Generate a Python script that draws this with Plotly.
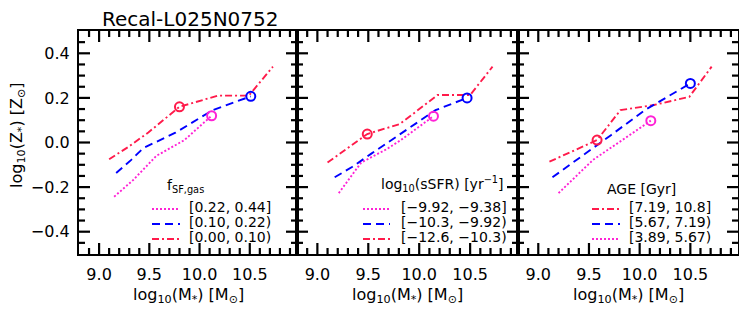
import numpy as np
import plotly.graph_objects as go

# ---------------- data ----------------
title_text = "Recal-L025N0752"
x_ticks = [9.0, 9.5, 10.0, 10.5]
y_ticks = [-0.4, -0.2, 0.0, 0.2, 0.4]

# panel 1 : f_SF,gas bins
p1_hi_x = [9.15, 9.34, 9.57, 9.85, 10.12]
p1_hi_y = [-0.243, -0.168, -0.06, 0.011, 0.12]
p1_mid_x = [9.17, 9.32, 9.44, 9.76, 10.13, 10.51]
p1_mid_y = [-0.137, -0.078, -0.025, 0.044, 0.145, 0.207]
p1_lo_x = [9.10, 9.29, 9.49, 9.80, 10.18, 10.49, 10.73]
p1_lo_y = [-0.075, -0.02, 0.045, 0.16, 0.21, 0.21, 0.34]
p1_circ_x = [10.12, 10.51, 9.80]
p1_circ_y = [0.12, 0.207, 0.16]
p1_labels = ["[0.22, 0.44]", "[0.10, 0.22)", "[0.00, 0.10)"]
p1_title = "f<sub>SF,gas</sub>"

# panel 2 : sSFR bins
p2_hi_x = [9.21, 9.43, 9.68, 9.82, 10.14]
p2_hi_y = [-0.227, -0.09, -0.03, 0.011, 0.118]
p2_mid_x = [9.17, 9.34, 9.53, 9.87, 10.16, 10.47]
p2_mid_y = [-0.156, -0.11, -0.05, 0.056, 0.145, 0.20]
p2_lo_x = [9.10, 9.49, 9.81, 10.18, 10.50, 10.72]
p2_lo_y = [-0.09, 0.038, 0.083, 0.213, 0.213, 0.34]
p2_circ_x = [10.14, 10.47, 9.49]
p2_circ_y = [0.118, 0.20, 0.038]
p2_labels = ["[\u22129.92, \u22129.38]", "[\u221210.3, \u22129.92)", "[\u221212.6, \u221210.3)"]
p2_title = "log<sub>10</sub>(sSFR) [yr<sup>\u22121</sup>]"

# panel 3 : AGE bins
p3_old_x = [9.11, 9.58, 9.81, 10.14, 10.49, 10.71]
p3_old_y = [-0.086, 0.011, 0.145, 0.168, 0.205, 0.34]
p3_mid_x = [9.14, 9.38, 9.72, 10.05, 10.22, 10.50]
p3_mid_y = [-0.156, -0.078, 0.034, 0.145, 0.19, 0.265]
p3_young_x = [9.20, 9.54, 10.11]
p3_young_y = [-0.227, -0.078, 0.098]
p3_circ_x = [9.58, 10.50, 10.11]
p3_circ_y = [0.011, 0.265, 0.098]
p3_labels = ["[7.19, 10.8]", "[5.67, 7.19)", "[3.89, 5.67)"]
p3_title = "AGE [Gyr]"

# ---------------- style ----------------
RED = "#ff1a4a"
BLUE = "#0000ff"
MAG = "#ff22d6"
DASH_RED = "7px,3px,2px,3px"
DASH_BLUE = "8px,5px"
DASH_MAG = "2px,2px"
FONT = "DejaVu Sans"
OFF = 8               # page body margin of the html page
W, H = 747 - OFF, 325 - OFF
XR = [8.8, 10.97]
YR = [-0.5, 0.5]
MAJ, MIN, TW = 11, 6, 2.2
LW = 1.9

def px(x):
    return (x - OFF) / W

def py(y):
    return 1 - (y - OFF) / H

x_edges = [(79, 297), (297, 518), (518, 738)]
y_top, y_bot = 31, 254

x_minor = [v for v in np.round(np.arange(8.9, XR[1], 0.1), 2) if v not in x_ticks]
y_minor = [v for v in np.round(np.arange(-0.45, 0.46, 0.05), 2)
           if min(abs(v - t) for t in y_ticks) > 1e-6]

fig = go.Figure()

panels = [
    [(p1_hi_x, p1_hi_y, MAG, DASH_MAG), (p1_mid_x, p1_mid_y, BLUE, DASH_BLUE), (p1_lo_x, p1_lo_y, RED, DASH_RED)],
    [(p2_hi_x, p2_hi_y, MAG, DASH_MAG), (p2_mid_x, p2_mid_y, BLUE, DASH_BLUE), (p2_lo_x, p2_lo_y, RED, DASH_RED)],
    [(p3_old_x, p3_old_y, RED, DASH_RED), (p3_mid_x, p3_mid_y, BLUE, DASH_BLUE), (p3_young_x, p3_young_y, MAG, DASH_MAG)],
]
circles = [
    (p1_circ_x, p1_circ_y, [MAG, BLUE, RED]),
    (p2_circ_x, p2_circ_y, [MAG, BLUE, RED]),
    (p3_circ_x, p3_circ_y, [RED, BLUE, MAG]),
]
labels = [p1_labels, p2_labels, p3_labels]
leg_titles = [p1_title, p2_title, p3_title]
leg_title_x = [165, 379, 605]
leg_title_y = [186, 184, 189]
leg_line_x = [(152, 180), (363, 390), (592, 620)]
leg_text_x = [187, 399, 627]
leg_rows = [209, 224, 239]


def tick_segments(x0px, x1px):
    """Inward tick marks on all four sides of one panel box (axis decoration)."""
    dx = (XR[1] - XR[0]) / (x1px - x0px)     # data units per pixel
    dy = (YR[1] - YR[0]) / (y_bot - y_top)
    tx, ty = [], []
    for vals, ln in ((x_ticks, MAJ), (x_minor, MIN)):
        for v in vals:
            tx += [v, v, None, v, v, None]
            ty += [YR[0], YR[0] + ln * dy, None, YR[1], YR[1] - ln * dy, None]
    for vals, ln in ((y_ticks, MAJ), (y_minor, MIN)):
        for v in vals:
            tx += [XR[0], XR[0] + ln * dx, None, XR[1], XR[1] - ln * dx, None]
            ty += [v, v, None, v, v, None]
    return tx, ty


for i, series in enumerate(panels):
    xa = "x" if i == 0 else f"x{i+1}"
    ya = "y" if i == 0 else f"y{i+1}"
    tx, ty = tick_segments(*x_edges[i])
    fig.add_trace(go.Scatter(x=tx, y=ty, mode="lines", xaxis=xa, yaxis=ya,
                             line=dict(color="#000000", width=TW),
                             connectgaps=False,
                             showlegend=False, hoverinfo="skip"))
    for (xs, ys, col, dash) in series:
        fig.add_trace(go.Scatter(x=xs, y=ys, mode="lines", xaxis=xa, yaxis=ya,
                                 line=dict(color=col, width=LW, dash=dash),
                                 showlegend=False, hoverinfo="skip"))
    cx, cy, ccols = circles[i]
    fig.add_trace(go.Scatter(x=cx, y=cy, mode="markers", xaxis=xa, yaxis=ya,
                             marker=dict(symbol="circle-open", size=9,
                                         color=ccols, line=dict(width=2, color=ccols)),
                             showlegend=False, hoverinfo="skip"))

axis_common = dict(showline=True, linewidth=2.2, linecolor="black", mirror=True,
                   ticks="", showgrid=False, zeroline=False,
                   tickfont=dict(family=FONT, size=16, color="black"))

layout = dict(width=W, height=H, autosize=False,
              margin=dict(l=0, r=0, t=0, b=0),
              paper_bgcolor="white", plot_bgcolor="rgba(0,0,0,0)",
              showlegend=False)

for i, (x0, x1) in enumerate(x_edges):
    xk = "xaxis" if i == 0 else f"xaxis{i+1}"
    yk = "yaxis" if i == 0 else f"yaxis{i+1}"
    ya = "y" if i == 0 else f"y{i+1}"
    xa = "x" if i == 0 else f"x{i+1}"
    layout[xk] = dict(axis_common, domain=[px(x0), px(x1)], range=XR,
                      anchor=ya, tickmode="array", tickvals=x_ticks,
                      ticktext=[f"{v:.1f}" for v in x_ticks],
                      ticklabelstandoff=5)
    layout[yk] = dict(axis_common, domain=[py(y_bot), py(y_top)], range=YR,
                      anchor=xa, tickmode="array", tickvals=y_ticks,
                      ticktext=[f"{v:.1f}".replace("-", "\u2212") for v in y_ticks],
                      ticklabelstandoff=4, showticklabels=(i == 0))

fig.update_layout(**layout)

annotations = []
shapes = []
annotations.append(dict(text=title_text, x=px(190), y=py(19), xref="paper", yref="paper",
                        showarrow=False, xanchor="center", yanchor="middle",
                        font=dict(family=FONT, size=20, color="black")))
annotations.append(dict(text="log<sub>10</sub>(Z<sub>*</sub>) [Z<sub>\u2299</sub>]",
                        x=px(18), y=py(135), xref="paper", yref="paper", textangle=-90,
                        showarrow=False, xanchor="center", yanchor="middle",
                        font=dict(family=FONT, size=16, color="black")))

for i, (x0, x1) in enumerate(x_edges):
    annotations.append(dict(text="log<sub>10</sub>(M<sub>*</sub>) [M<sub>\u2299</sub>]",
                            x=px((x0 + x1) / 2), y=py(295), xref="paper", yref="paper",
                            showarrow=False, xanchor="center", yanchor="middle",
                            font=dict(family=FONT, size=16, color="black")))
    annotations.append(dict(text=leg_titles[i], x=px(leg_title_x[i]), y=py(leg_title_y[i]),
                            xref="paper", yref="paper", showarrow=False,
                            xanchor="left", yanchor="middle",
                            font=dict(family=FONT, size=14, color="black")))
    for j, (xs, ys, col, dash) in enumerate(panels[i]):
        yrow = leg_rows[j]
        shapes.append(dict(type="line", xref="paper", yref="paper",
                           x0=px(leg_line_x[i][0]), x1=px(leg_line_x[i][1]),
                           y0=py(yrow), y1=py(yrow),
                           line=dict(color=col, width=LW, dash=dash)))
        annotations.append(dict(text=labels[i][j], x=px(leg_text_x[i]), y=py(yrow - 2),
                                xref="paper", yref="paper", showarrow=False,
                                xanchor="left", yanchor="middle",
                                font=dict(family=FONT, size=14, color="black")))

fig.update_layout(annotations=annotations, shapes=shapes)
fig.write_html("out.html")
